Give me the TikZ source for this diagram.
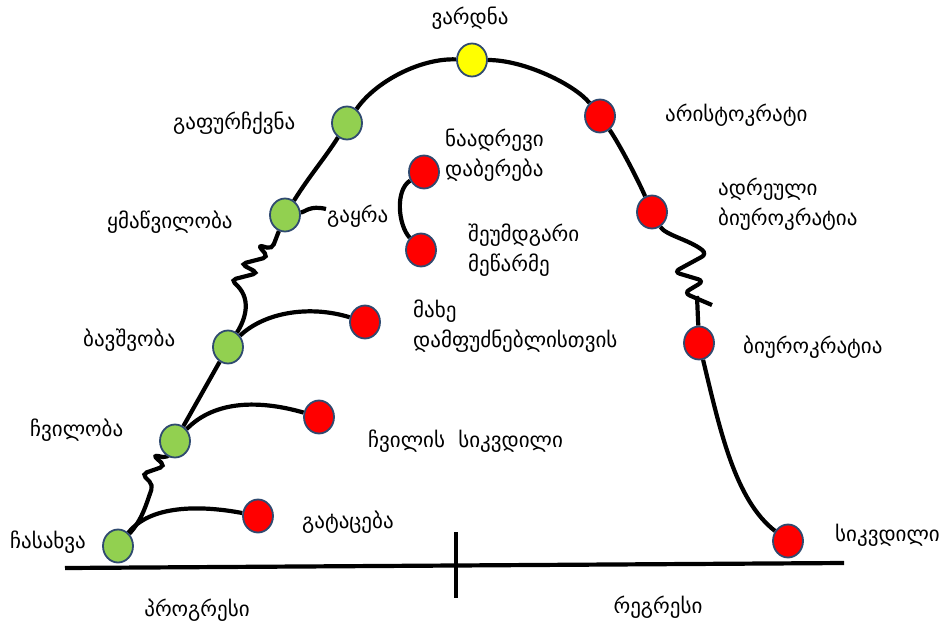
\documentclass[tikz,border=0pt]{standalone}
\usepackage{fontspec}
\setmainfont{DejaVu Sans}
\usetikzlibrary{shapes.geometric}
\pgfdeclarelayer{bg}
\pgfsetlayers{bg,main}
\definecolor{ngreen}{HTML}{92D050}
\definecolor{nred}{HTML}{FF0000}
\definecolor{nyellow}{HTML}{FFFF00}
\definecolor{nborder}{HTML}{2F4A70}
\tikzset{
  dot/.style={ellipse, draw=nborder, line width=1.8pt, minimum width=30pt, minimum height=33pt, inner sep=0pt},
  gdot/.style={dot, fill=ngreen},
  rdot/.style={dot, fill=nred},
  ydot/.style={dot, fill=nyellow},
  conn/.style={line width=4.2pt, black},
  lbl/.style={font=\fontsize{21}{30}\selectfont, inner sep=0pt, align=left},
}
\begin{document}
\begin{tikzpicture}[x=1pt,y=-1pt]
\useasboundingbox (0,0) rectangle (942,622);
% nodes
\node[gdot] (g1) at (118,546) {};
\node[gdot] (g2) at (175,441) {};
\node[gdot] (g3) at (228,347) {};
\node[gdot] (g4) at (285,215) {};
\node[gdot] (g5) at (347,123) {};
\node[ydot] (y)  at (472,60) {};
\node[rdot] (r7) at (600,116) {};
\node[rdot] (r8) at (652,212) {};
\node[rdot] (r9) at (699,343) {};
\node[rdot] (r10) at (788,541) {};
\node[rdot] (r11) at (258,516) {};
\node[rdot] (r12) at (319,417) {};
\node[rdot] (r13) at (365,322) {};
\node[rdot] (r14) at (424,172) {};
\node[rdot] (r15) at (421,250) {};
\coordinate (gy) at (326,209);
\coordinate (zz) at (697,296);
\coordinate (bl) at (65,568);
\coordinate (br) at (844,563);
\coordinate (tt) at (456,532);
\coordinate (tb) at (456,598);
% connectors
\begin{pgfonlayer}{bg}
\draw[conn] (bl) -- (br);
\draw[conn] (tt) -- (tb);
% main arc
\draw[conn] (g4) .. controls (310,175) and (325,158) .. (g5);
\draw[conn] (g5) .. controls (375,82) and (420,58) .. (y);
\draw[conn] (y) .. controls (525,60) and (575,85) .. (r7);
\draw[conn] (r7) .. controls (620,145) and (638,180) .. (r8);
\draw[conn, rounded corners=6pt] (r8) .. controls (665,235) and (690,240) .. (707,254) -- (674,272) -- (704,281) -- (684,293) -- (712,305);
\draw[conn] (zz) -- (r9);
\draw[conn] (r9) .. controls (720,430) and (735,500) .. (r10);
% left chain
\draw[conn, rounded corners=5pt] (g2) -- (168,458) -- (153,455) -- (165,466) -- (142,474) -- (153,485) .. controls (146,505) and (142,520) .. (g1);
\draw[conn] (g2) -- (g3);
\draw[conn, rounded corners=5pt] (g4) -- (272,249) -- (258,245) -- (268,257) -- (241,264) -- (258,273) -- (231,280) .. controls (252,298) and (246,318) .. (g3);
% branches
\draw[conn] (g1) .. controls (150,505) and (200,505) .. (r11);
\draw[conn] (g2) .. controls (215,400) and (260,400) .. (r12);
\draw[conn] (g3) .. controls (265,312) and (310,305) .. (r13);
\draw[conn] (g4) .. controls (305,212) and (310,205) .. (gy);
\draw[conn] (r14) .. controls (395,190) and (398,225) .. (r15);
\end{pgfonlayer}
% labels
\node[lbl] (t1) at (470,18) {ვარდნა};
\node[lbl, anchor=west] (t2) at (173,123) {გაფურჩქვნა};
\node[lbl, anchor=west] (t3) at (107,222) {ყმაწვილობა};
\node[lbl, anchor=west] (t4) at (327,216) {გაყრა};
\node[lbl, anchor=west] (t5) at (445,155) {ნაადრევი\\დაბერება};
\node[lbl, anchor=west] (t6) at (468,250) {შეუმდგარი\\მეწარმე};
\node[lbl, anchor=west] (t7) at (665,115) {არისტოკრატი};
\node[lbl, anchor=west] (t8) at (718,204) {ადრეული\\ბიუროკრატია};
\node[lbl, anchor=west] (t9) at (743,347) {ბიუროკრატია};
\node[lbl, anchor=west] (t10) at (413,326) {მახე\\დამფუძნებლისთვის};
\node[lbl, anchor=west] (t11) at (368,441) {ჩვილის\ \ სიკვდილი};
\node[lbl, anchor=west] (t12) at (83,340) {ბავშვობა};
\node[lbl, anchor=west] (t13) at (30,430) {ჩვილობა};
\node[lbl, anchor=west] (t14) at (10,542) {ჩასახვა};
\node[lbl, anchor=west] (t15) at (302,522) {გატაცება};
\node[lbl] (t16) at (197,610) {პროგრესი};
\node[lbl] (t17) at (658,607) {რეგრესი};
\node[lbl, anchor=west] (t18) at (835,535) {სიკვდილი};
\end{tikzpicture}
\end{document}
